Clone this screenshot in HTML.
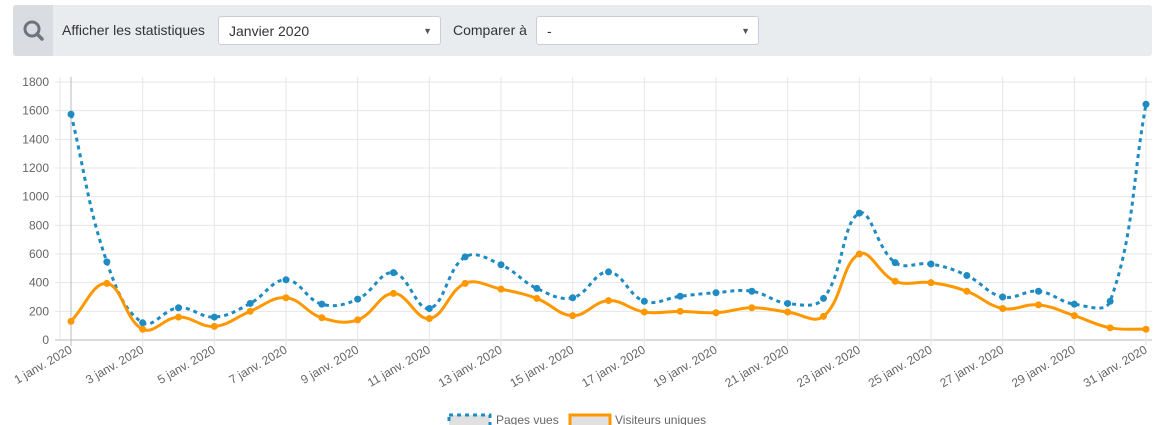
<!DOCTYPE html>
<html><head><meta charset="utf-8"><style>
body{margin:0;width:1164px;height:425px;overflow:hidden;background:#fff;font-family:"Liberation Sans",sans-serif;position:relative}
.bar{position:absolute;left:13px;top:5px;width:1139px;height:51px;background:#e9ecef;border-radius:3px}
.ic{position:absolute;left:0;top:0;width:40px;height:51px;background:#d9dde1;border-radius:3px 0 0 3px}
.lbl{position:absolute;top:17px;font-size:14px;color:#333}
.sel{position:absolute;top:11px;height:29px;background:#fff;border:1px solid #ccd;border-radius:3px;font-size:14px;color:#333;line-height:29px;padding-left:10px;box-sizing:border-box}
.sel span{position:absolute;right:8px;top:0;font-size:9px;color:#555}
</style></head><body>
<div class="bar">
<div class="ic"><svg width="40" height="51"><circle cx="19" cy="24" r="7" fill="none" stroke="#6c757d" stroke-width="3"/><line x1="24" y1="29" x2="29" y2="34" stroke="#6c757d" stroke-width="3.5" stroke-linecap="round"/></svg></div>
<div class="lbl" style="left:49px">Afficher les statistiques</div>
<div class="sel" style="left:205px;width:223px">Janvier 2020<span>▼</span></div>
<div class="lbl" style="left:440px">Comparer à</div>
<div class="sel" style="left:523px;width:223px">-<span>▼</span></div>
</div>
<svg id="c" width="1164" height="425" style="position:absolute;left:0;top:0"></svg>
<script>
const days=[1,2,3,4,5,6,7,8,9,10,11,12,13,14,15,16,17,18,19,20,21,22,23,24,25,26,27,28,29,30,31];
const pagesVues=[1575,545,120,225,160,255,420,250,285,470,220,580,525,360,295,475,270,305,330,340,255,290,885,540,530,450,300,340,250,270,1645];
const visiteurs=[130,395,75,160,95,200,295,155,140,325,150,395,355,290,170,275,195,200,190,225,195,165,600,410,400,340,220,245,170,85,75];
const yTicks=[0,200,400,600,800,1000,1200,1400,1600,1800];
const svg=document.getElementById('c');const NS='http://www.w3.org/2000/svg';
const X=d=>71+(d-1)*(1146-71)/30;const Y=v=>340-v*(340-82)/1800;
function el(t,a,p){const e=document.createElementNS(NS,t);for(const k in a)e.setAttribute(k,a[k]);(p||svg).appendChild(e);return e;}
yTicks.forEach(t=>{const g=el('line',{x1:55,x2:1152,y1:Y(t),y2:Y(t),stroke:t==0?'#bbb':'#e6e6e6'});

const tx=el('text',{x:49,y:Y(t)+4,'text-anchor':'end','font-size':12,fill:'#666'});tx.textContent=t;
});
el('line',{x1:60,x2:60,y1:77,y2:340,stroke:'#e6e6e6'});
days.forEach(d=>{if(d%2==0)return;const g=el('line',{x1:X(d),x2:X(d),y1:77,y2:346,stroke:d==1?'#bbb':'#e6e6e6'});

const tx=el('text',{x:X(d)+2,y:352,'text-anchor':'end','font-size':12,fill:'#666',transform:`rotate(-30 ${X(d)+2} 352)`});tx.textContent=d+' janv. 2020';
});
function path(vals){const p=vals.map((v,i)=>[X(days[i]),Y(v)]);const t=0.4;let s=`M${p[0][0]},${p[0][1]}`;
const cp=p.map((c,i)=>{const a=p[Math.max(i-1,0)],b=p[Math.min(i+1,p.length-1)];const d01=Math.hypot(c[0]-a[0],c[1]-a[1]),d12=Math.hypot(b[0]-c[0],b[1]-c[1]);
let fa=d01/(d01+d12||1),fb=d12/(d01+d12||1);fa*=t;fb*=t;return{pv:[c[0]-fa*(b[0]-a[0]),c[1]-fa*(b[1]-a[1])],nx:[c[0]+fb*(b[0]-a[0]),c[1]+fb*(b[1]-a[1])]};});
for(let i=1;i<p.length;i++)s+=`C${cp[i-1].nx[0]},${cp[i-1].nx[1]} ${cp[i].pv[0]},${cp[i].pv[1]} ${p[i][0]},${p[i][1]}`;return s;}
function series(vals,col,dash,name){const l=el('path',{d:path(vals),fill:'none',stroke:col,'stroke-width':3,'stroke-dasharray':dash});

vals.forEach((v,i)=>{const c=el('circle',{cx:X(days[i]),cy:Y(v),r:3.5,fill:col});});}
series(pagesVues,'#1e8bc3','4 4','pages-vues');
series(visiteurs,'#ff9800','none','visiteurs');
let r=el('rect',{x:449,y:415,width:41,height:14,fill:'#e0e0e0',stroke:'#1e8bc3','stroke-width':3,'stroke-dasharray':'4 4'});
let tx=el('text',{x:496,y:424,'font-size':12,fill:'#666'});tx.textContent='Pages vues';
r=el('rect',{x:570,y:415,width:40,height:14,fill:'#e0e0e0',stroke:'#ff9800','stroke-width':3});
tx=el('text',{x:615,y:424,'font-size':12,fill:'#666'});tx.textContent='Visiteurs uniques';
</script>
</body></html>
